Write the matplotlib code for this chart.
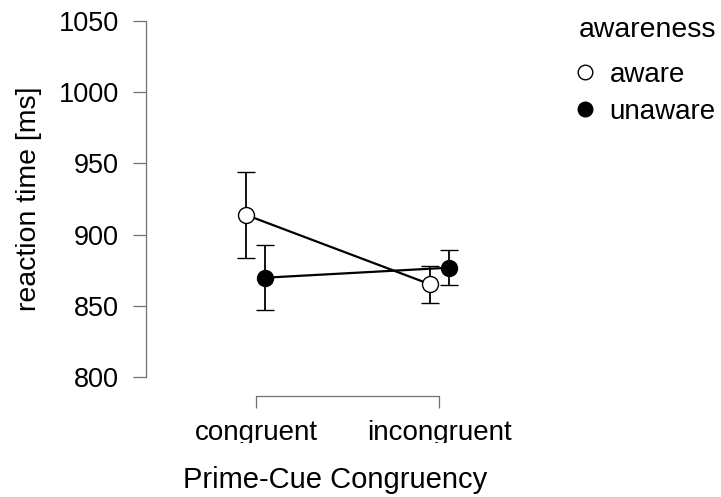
import numpy as np
import matplotlib
matplotlib.use("Agg")
import matplotlib.pyplot as plt
from matplotlib.lines import Line2D
from matplotlib.transforms import Bbox

plt.rcParams['font.family'] = ['Liberation Sans', 'DejaVu Sans']

# data
conditions = ["congruent", "incongruent"]
groups = ["aware", "unaware"]
aware_mean = [913.8, 865.3]
aware_err = [30.2, 13.0]
unaware_mean = [869.8, 876.8]
unaware_err = [23.0, 12.4]
yticks = [800, 850, 900, 950, 1000, 1050]

W, H = 721, 497
fig = plt.figure(figsize=(W / 100, H / 100), dpi=100)
# axes box in pixels: left 146, right 524, top 14, bottom 396
ax = fig.add_axes([146 / W, 1 - 396 / H, (524 - 146) / W, (396 - 14) / H])

x = np.arange(len(conditions))
dodge = 0.052
grey = '#707070'

faces = ['white', 'black']
series = [(aware_mean, aware_err, -dodge), (unaware_mean, unaware_err, dodge)]
for (mean, err, dx), face in zip(series, faces):
    ax.errorbar(x + dx, mean, yerr=err, color='black', lw=1.6,
                elinewidth=1.3, capsize=6.8, capthick=1.3,
                marker='o', ms=11.5, mfc=face, mec='black', mew=1.0,
                zorder=3)

ax.set_xlim(-0.6, 1.464)
ax.set_ylim(786.7, 1055)
ax.set_yticks(yticks)
ax.set_xticks(x)
ax.set_xticklabels(conditions)

for s in ['top', 'right']:
    ax.spines[s].set_visible(False)
ax.spines['left'].set_bounds(800, 1050)
ax.spines['bottom'].set_bounds(0, 1)
for s in ['left', 'bottom']:
    ax.spines[s].set_color(grey)
    ax.spines[s].set_linewidth(0.9)
ax.tick_params(axis='y', length=9.4, width=0.9, color=grey, labelsize=19.5, pad=10)
ax.tick_params(axis='x', length=8.6, width=0.9, color=grey, labelsize=20, pad=9)

ax.set_ylabel("reaction time [ms]", fontsize=20.5, labelpad=12)
ax.yaxis.label.set_y((396 - 199) / (396 - 14))  # centred on the spine
ax.set_xlabel("Prime-Cue Congruency", fontsize=21, labelpad=14)

# the reference cuts off the descenders of the category labels
clip = Bbox.from_extents(0, H - 443, W, H)
for lab in ax.get_xticklabels():
    lab.set_clip_on(True)
    lab.set_clip_box(clip)

# legend: title as separate text, entries below it
fig.text(579 / W, 1 - 37 / H, "awareness", fontsize=20.4, ha='left', va='baseline')
handles = [Line2D([], [], ls='none', marker='o', ms=10.5, mfc=f, mec='black', mew=1.0)
           for f in faces]
leg = ax.legend(handles, groups, loc='upper left',
                bbox_to_anchor=(579 / W, 1 - 62 / H), bbox_transform=fig.transFigure,
                frameon=False, fontsize=20, borderpad=0,
                borderaxespad=0, handlelength=0.4, handletextpad=0.7,
                labelspacing=0.38)

fig.savefig("out.png", dpi=100)
